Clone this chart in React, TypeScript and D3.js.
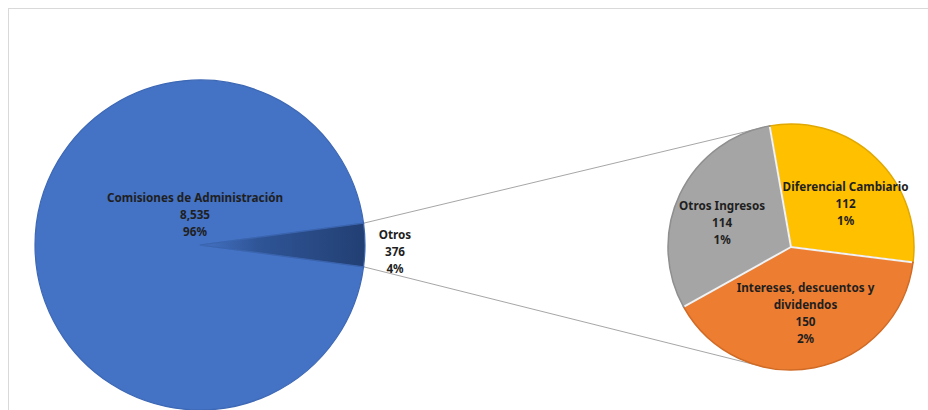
import React from "react";
import * as d3 from "d3";

const mainCategories = ["Comisiones de Administración", "Otros"];
const mainValues = [8535, 376];
const subCategories = ["Diferencial Cambiario", "Intereses, descuentos y dividendos", "Otros Ingresos"];
const subLabelLines = [["Diferencial Cambiario"], ["Intereses, descuentos y", "dividendos"], ["Otros Ingresos"]];
const subValues = [112, 150, 114];

const mainColors = ["#4472C4", "#2A4B85"];
const subColors = ["#FFC000", "#ED7D31", "#A5A5A5"];
const subStrokes = ["#E0A800", "#D06A24", "#8F8F8F"];

const W = 928, H = 410;
const FONT = "'Noto Sans', sans-serif";

export default function App() {
  const total = d3.sum(mainValues);
  const fmt = d3.format(",");
  const pct = d3.format(".0%");

  const cx = 200, cy = 245, R = 165;
  const otrosAngle = (mainValues[1] / total) * 2 * Math.PI;
  const start = Math.PI / 2 + otrosAngle / 2;
  const mainPie = d3.pie<number>().sort(null).startAngle(start).endAngle(start + 2 * Math.PI)(mainValues);
  const mainArc = d3.arc<d3.PieArcDatum<number>>().innerRadius(0).outerRadius(R);

  const sx = 791, sy = 247, r = 123;
  const subStart = (-10 * Math.PI) / 180;
  const subPie = d3.pie<number>().sort(null).startAngle(subStart).endAngle(subStart + 2 * Math.PI)(subValues);
  const subArc = d3.arc<d3.PieArcDatum<number>>().innerRadius(0).outerRadius(r);
  const labelArc = d3.arc<d3.PieArcDatum<number>>().innerRadius(r * 0.62).outerRadius(r * 0.62);

  const otros = mainPie[1];
  const pt = (a: number, rad: number, x: number, y: number) => [x + rad * Math.sin(a), y - rad * Math.cos(a)];
  const wTop = pt(otros.startAngle, R, cx, cy);
  const wBot = pt(otros.endAngle, R, cx, cy);
  const sTop = pt((-9 * Math.PI) / 180, r, sx, sy);
  const sBot = pt((192 * Math.PI) / 180, r, sx, sy);

  const lineH = 17;
  const fs = 11.7;
  const labelOffsets: [number, number][] = [[2, 12.5], [0, -8.5], [0, 9]];

  return (
    <svg width={W} height={H} style={{ position: "absolute", left: 0, top: 0, background: "#fff" }} fontFamily={FONT}>
      <defs>
        <linearGradient id="otrosGrad" x1="0" x2="1" y1="0" y2="0">
          <stop offset="0" stopColor="#4472C4" />
          <stop offset="0.35" stopColor="#2F5597" />
          <stop offset="1" stopColor="#223F73" />
        </linearGradient>
      </defs>
      <rect x={8.5} y={8.5} width={W + 20} height={H + 20} fill="#fff" stroke="#D9D9D9" />

      <line x1={wTop[0]} y1={wTop[1]} x2={sTop[0]} y2={sTop[1]} stroke="#A6A6A6" strokeWidth={1} />
      <line x1={wBot[0]} y1={wBot[1]} x2={sBot[0]} y2={sBot[1]} stroke="#A6A6A6" strokeWidth={1} />

      <g transform={`translate(${cx},${cy})`}>
        {mainPie.map((d, i) => (
          <path key={mainCategories[i]} d={mainArc(d) || ""} fill={i === 1 ? "url(#otrosGrad)" : mainColors[i]}
            stroke={i === 1 ? "#3A64AE" : "#3D68B5"} strokeWidth={1.2} />
        ))}
      </g>

      <g transform={`translate(${sx},${sy})`}>
        {subPie.map((d, i) => (
          <path key={subCategories[i]} d={subArc(d) || ""} fill={subColors[i]} stroke={subStrokes[i]} strokeWidth={1.5} />
        ))}
        {subPie.map((d, i) => {
          const a = d.startAngle;
          return <line key={"sep" + i} x1={0} y1={0} x2={(r - 1) * Math.sin(a)} y2={-(r - 1) * Math.cos(a)} stroke="#F2F2F2" strokeWidth={2} />;
        })}
      </g>

      <g fontWeight="bold" fontSize={fs} fill="#1F1F1F" textAnchor="middle">
        {[mainCategories[0], fmt(mainValues[0]), pct(mainValues[0] / total)].map((t, k) => (
          <text key={"m0" + k} x={cx - 5} y={cy - 47 + k * lineH + 4}>{t}</text>
        ))}
        {[mainCategories[1], fmt(mainValues[1]), pct(mainValues[1] / total)].map((t, k) => (
          <text key={"m1" + k} x={cx + R + 30} y={cy - 10 + k * lineH + 4}>{t}</text>
        ))}
      </g>

      <g fontWeight="bold" fontSize={fs} fill="#1F1F1F" textAnchor="middle">
        {subPie.map((d, i) => {
          const [lx, ly] = labelArc.centroid(d);
          const lines = [...subLabelLines[i], fmt(subValues[i]), pct(subValues[i] / total)];
          const y0 = sy + ly - ((lines.length - 1) * lineH) / 2 + labelOffsets[i][1];
          return lines.map((t, k) => (
            <text key={subCategories[i] + k} x={sx + lx + labelOffsets[i][0]} y={y0 + k * lineH + 4}>{t}</text>
          ));
        })}
      </g>
    </svg>
  );
}
